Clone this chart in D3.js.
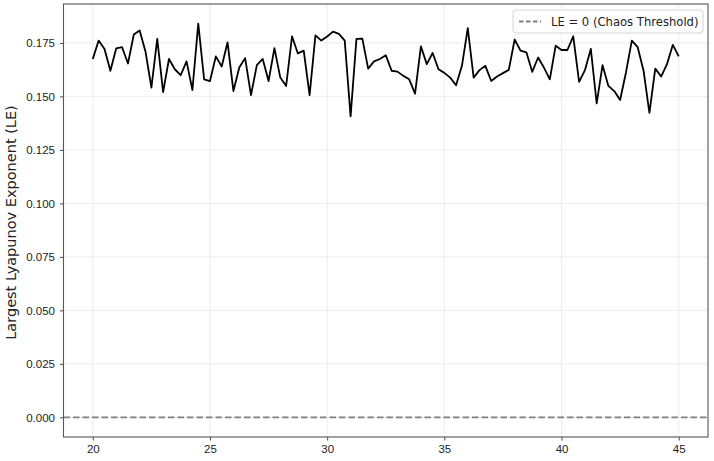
<!DOCTYPE html>
<html>
<head>
<meta charset="utf-8">
<script src="https://cdn.jsdelivr.net/npm/d3@7"></script>
<style>
  html, body { margin: 0; padding: 0; background: #fff; }
  svg { display: block; font-family: 'DejaVu Sans', sans-serif; }
</style>
</head>
<body>
<div id="chart"></div>
<script>
// control parameter values (step 0.25)
const paramStart = 20;
const paramStep = 0.25;
// largest Lyapunov exponent
const leValues = [
  0.1675, 0.1761, 0.1722, 0.1620, 0.1725, 0.1730, 0.1654, 0.1789, 0.1808, 0.1709,
  0.1541, 0.1769, 0.1520, 0.1675, 0.1627, 0.1599, 0.1664, 0.1530, 0.1840, 0.1580,
  0.1572, 0.1687, 0.1640, 0.1753, 0.1525, 0.1635, 0.1679, 0.1506, 0.1646, 0.1675,
  0.1572, 0.1726, 0.1588, 0.1549, 0.1781, 0.1701, 0.1714, 0.1506, 0.1785, 0.1761,
  0.1780, 0.1803, 0.1792, 0.1761, 0.1407, 0.1769, 0.1770, 0.1630, 0.1664, 0.1675,
  0.1693, 0.1620, 0.1616, 0.1596, 0.1580, 0.1513, 0.1734, 0.1651, 0.1703, 0.1627,
  0.1610, 0.1588, 0.1552, 0.1643, 0.1819, 0.1588, 0.1623, 0.1643, 0.1572, 0.1593,
  0.1609, 0.1624, 0.1766, 0.1714, 0.1706, 0.1615, 0.1682, 0.1635, 0.1580, 0.1737,
  0.1717, 0.1717, 0.1781, 0.1568, 0.1623, 0.1722, 0.1467, 0.1646, 0.1549, 0.1525,
  0.1483, 0.1612, 0.1761, 0.1730, 0.1620, 0.1423, 0.1630, 0.1593, 0.1651, 0.1741,
  0.1687
];
const xTicks = [20, 25, 30, 35, 40, 45];
const yTicks = [0, 0.025, 0.05, 0.075, 0.1, 0.125, 0.15, 0.175];
const thresholdValue = 0;
const yLabel = 'Largest Lyapunov Exponent (LE)';
const legendLabel = 'LE = 0 (Chaos Threshold)';

const width = 714;
const height = 461;
const margin = { top: 4, right: 6, bottom: 24, left: 63.5 };

const data = leValues.map((v, i) => ({ x: paramStart + i * paramStep, y: v }));

const svg = d3.select('#chart')
  .append('svg')
  .attr('width', width)
  .attr('height', height);

// matplotlib-style 5% padding on both axes
const xExt = d3.extent(data, d => d.x);
const xPad = (xExt[1] - xExt[0]) * 0.05;
const yMin = Math.min(thresholdValue, d3.min(data, d => d.y));
const yMax = d3.max(data, d => d.y);
const yPad = (yMax - yMin) * 0.05;

const x = d3.scaleLinear()
  .domain([xExt[0] - xPad, xExt[1] + xPad])
  .range([margin.left, width - margin.right]);
const y = d3.scaleLinear()
  .domain([yMin - yPad, yMax + yPad])
  .range([height - margin.bottom, margin.top]);

// grid
const grid = svg.append('g').attr('stroke', '#ebebeb').attr('stroke-width', 0.9);
grid.selectAll('.gx').data(xTicks).join('line')
  .attr('x1', d => x(d)).attr('x2', d => x(d))
  .attr('y1', margin.top).attr('y2', height - margin.bottom);
grid.selectAll('.gy').data(yTicks).join('line')
  .attr('x1', margin.left).attr('x2', width - margin.right)
  .attr('y1', d => y(d)).attr('y2', d => y(d));

// threshold line
svg.append('line')
  .attr('x1', margin.left).attr('x2', width - margin.right)
  .attr('y1', y(thresholdValue)).attr('y2', y(thresholdValue))
  .attr('stroke', '#808080')
  .attr('stroke-width', 1.8)
  .attr('stroke-dasharray', '6.5,3');

// LE curve
svg.append('path')
  .datum(data)
  .attr('fill', 'none')
  .attr('stroke', '#000')
  .attr('stroke-width', 1.8)
  .attr('stroke-linejoin', 'round')
  .attr('d', d3.line().x(d => x(d.x)).y(d => y(d.y)));

// axes
const xAxis = svg.append('g')
  .attr('transform', `translate(0,${height - margin.bottom})`)
  .call(d3.axisBottom(x).tickValues(xTicks).tickFormat(d3.format('d')).tickSize(3.5).tickPadding(4.5));
const yAxis = svg.append('g')
  .attr('transform', `translate(${margin.left},0)`)
  .call(d3.axisLeft(y).tickValues(yTicks).tickFormat(d3.format('.3f')).tickSize(3.5).tickPadding(5));
[xAxis, yAxis].forEach(a => {
  a.select('.domain').remove();
  a.selectAll('.tick line').attr('stroke', '#333').attr('stroke-width', 0.9);
  a.selectAll('.tick text').attr('fill', '#222').style('font-size', '11.5px');
});

// frame
svg.append('rect')
  .attr('x', margin.left).attr('y', margin.top)
  .attr('width', width - margin.left - margin.right)
  .attr('height', height - margin.top - margin.bottom)
  .attr('fill', 'none')
  .attr('stroke', '#555')
  .attr('stroke-width', 1.1);

// y label
svg.append('text')
  .attr('transform', `translate(16,${(margin.top + height - margin.bottom) / 2 + 2}) rotate(-90)`)
  .attr('text-anchor', 'middle')
  .attr('fill', '#222')
  .style('font-size', '14.5px')
  .text(yLabel);

// legend
const lg = svg.append('g').attr('transform', `translate(${width - margin.right - 195},10)`);
lg.append('rect')
  .attr('width', 190).attr('height', 23).attr('rx', 3)
  .attr('fill', '#fff').attr('fill-opacity', 0.85)
  .attr('stroke', '#d6d6d6');
lg.append('line')
  .attr('x1', 6).attr('x2', 28).attr('y1', 11.5).attr('y2', 11.5)
  .attr('stroke', '#808080').attr('stroke-width', 1.8).attr('stroke-dasharray', '4.5,2.5');
lg.append('text')
  .attr('x', 38).attr('y', 15.5)
  .attr('fill', '#222')
  .style('font-size', '11.6px')
  .text(legendLabel);
</script>
</body>
</html>
